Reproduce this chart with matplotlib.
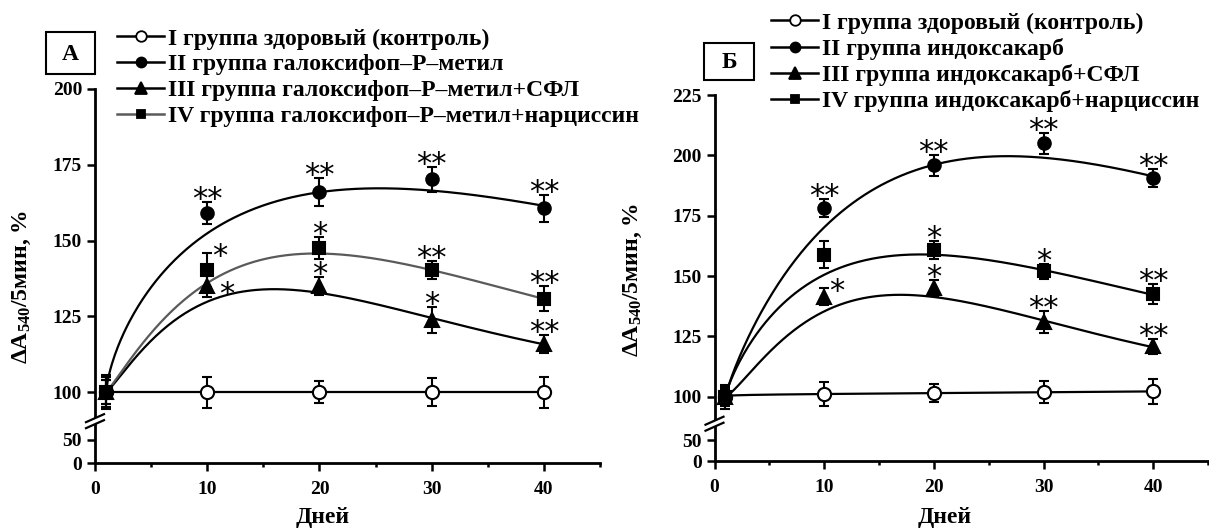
import numpy as np
import matplotlib.pyplot as plt
import matplotlib.transforms as mtransforms
from matplotlib.lines import Line2D
from matplotlib.patches import Rectangle

W, H = 1209, 530

plt.rcParams['font.family'] = ['Liberation Serif', 'DejaVu Sans']
plt.rcParams['font.weight'] = 'bold'
plt.rcParams['mathtext.fontset'] = 'custom'
plt.rcParams['mathtext.rm'] = 'Liberation Serif:bold'
plt.rcParams['mathtext.bf'] = 'Liberation Serif:bold'
plt.rcParams['mathtext.it'] = 'Liberation Serif:bold:italic'

days = [1, 10, 20, 30, 40]

# А: галоксифоп-Р-метил
a_labels = ['I группа здоровый (контроль)',
            'II группа галоксифоп–Р–метил',
            'III группа галоксифоп–Р–метил+СФЛ',
            'IV группа галоксифоп–Р–метил+нарциссин']
a_mean_1 = [100, 100, 100, 100, 100]
a_err_1 = [5.5, 5.1, 3.7, 4.6, 5.1]
a_mean_2 = [100, 159.1, 165.9, 170.2, 160.6]
a_err_2 = [4.0, 3.7, 4.6, 4.2, 4.4]
a_mean_3 = [100, 135.1, 135.0, 123.8, 115.8]
a_err_3 = [4.0, 3.6, 3.1, 4.3, 3.0]
a_mean_4 = [100, 140.3, 147.6, 140.3, 130.8]
a_err_4 = [5.0, 5.5, 3.6, 3.0, 4.2]
# values of the fitted trend curves at the same days
a_trend_2 = [100, 152.6, 164.7, 168.2, 160.8]
a_trend_3 = [100, 129.7, 133.3, 123.9, 115.9]
a_trend_4 = [100, 136.0, 145.6, 140.4, 130.7]
# (group, day, mark, placement)
a_stars = [(1, 10, '**', 'up'), (1, 20, '**', 'up'), (1, 30, '**', 'up'), (1, 40, '**', 'up'),
           (3, 10, '*', 'ur'), (3, 20, '*', 'up'), (3, 30, '**', 'up'), (3, 40, '**', 'up'),
           (2, 10, '*', 'r'), (2, 20, '*', 'up'), (2, 30, '*', 'up'), (2, 40, '**', 'up')]

# Б: индоксакарб
b_labels = ['I группа здоровый (контроль)',
            'II группа индоксакарб',
            'III группа индоксакарб+СФЛ',
            'IV группа индоксакарб+нарциссин']
b_mean_1 = [100, 101.1, 101.5, 101.8, 102.2]
b_err_1 = [4.0, 4.8, 3.8, 4.5, 5.2]
b_mean_2 = [100, 178.1, 195.8, 205.0, 190.6]
b_err_2 = [3.0, 3.7, 4.3, 4.3, 3.9]
b_mean_3 = [100, 141.5, 145.0, 130.9, 120.8]
b_err_3 = [3.0, 3.6, 3.4, 4.6, 3.0]
b_mean_4 = [100, 158.8, 160.9, 151.9, 142.5]
b_err_4 = [5.0, 5.5, 3.7, 3.0, 4.3]
b_trend_2 = [100, 170.4, 194.6, 201.1, 190.5]
b_trend_3 = [100, 135.2, 142.1, 130.8, 120.7]
b_trend_4 = [100, 150.4, 159.4, 151.8, 142.4]
b_stars = [(1, 10, '**', 'up'), (1, 20, '**', 'up'), (1, 30, '**', 'up'), (1, 40, '**', 'up'),
           (3, 20, '*', 'up'), (3, 30, '*', 'up'), (3, 40, '**', 'up'),
           (2, 10, '*', 'ur'), (2, 20, '*', 'up'), (2, 30, '**', 'up'), (2, 40, '**', 'up')]

markers = ['o', 'o', '^', 's']
face = ['white', 'black', 'black', 'black']
msize = [9.5, 9, 10, 8]
# offsets (px) of the asterisk centre: from cap top or from the mean
star_off = {'up': ('cap', 0, 11), 'ur': ('cap', 13, 5), 'r': ('mean', 20, 0)}
STAR_MID = 17  # px from baseline to middle of '*' glyph at 22 pt


def px(x, y):
    return x / W, 1 - y / H


def broken(k1, k2, b):
    def fwd(v):
        v = np.asarray(v, float)
        return np.where(v < b, k1 * v, k1 * b + k2 * (v - b))

    def inv(p):
        p = np.asarray(p, float)
        return np.where(p < k1 * b, p / k1, b + (p - k1 * b) / k2)
    return fwd, inv


def trend_curve(t, v):
    t = np.asarray(t, float)
    v = np.asarray(v, float)
    tt = np.linspace(t[0], t[-1], 300)
    dv = v[1:] - v[0]
    if np.any(dv <= 0):
        return tt, np.polyval(np.polyfit(t, v, 1), tt)
    # v = v0 + A * s**n * exp(-k*s), fitted in log form
    s = t[1:] - t[0]
    X = np.column_stack([np.ones_like(s), np.log(s), -s])
    c, *_ = np.linalg.lstsq(X, np.log(dv), rcond=None)
    ss = tt - t[0]
    return tt, v[0] + np.exp(c[0]) * ss ** c[1] * np.exp(-c[2] * ss)


def draw_panel(ax, means, errs, trends, stars, line_colors, yticks, ymax, scale):
    ax.set_yscale('function', functions=broken(*scale))
    ax.set_xlim(0, 45)
    ax.set_ylim(0, ymax)
    for i, (m, e) in enumerate(zip(means, errs)):
        tt, yy = trend_curve(days, trends[i] if trends[i] is not None else m)
        ax.plot(tt, yy, color=line_colors[i], lw=1.6, zorder=2)
        ax.errorbar(days, m, yerr=e, fmt='none', ecolor='black', elinewidth=1.5,
                    capsize=3.8, capthick=1.5, zorder=3)
        ax.plot(days, m, ls='none', marker=markers[i], ms=msize[i], mfc=face[i],
                mec='black', mew=1.5, zorder=4)
    for g, d, txt, where in stars:
        k = days.index(d)
        ref, dx, dy = star_off[where]
        yv = means[g][k] + (errs[g][k] if ref == 'cap' else 0)
        ax.annotate(txt, (d, yv), xytext=(dx, dy - STAR_MID), textcoords='offset pixels',
                    ha='center', va='baseline', fontsize=22, fontweight='normal',
                    family='DejaVu Sans', zorder=5, annotation_clip=False)

    for side in ('top', 'right'):
        ax.spines[side].set_visible(False)
    for side in ('left', 'bottom'):
        ax.spines[side].set_linewidth(2)
    ax.set_yticks(yticks)
    ax.set_yticklabels([str(v) for v in yticks])
    ax.set_xticks([0, 10, 20, 30, 40])
    ax.set_xticks([5, 15, 25, 35, 45], minor=True)
    ax.tick_params(which='major', direction='out', length=5.8, width=1.8, labelsize=14)
    ax.tick_params(axis='x', which='major', pad=7)
    ax.tick_params(which='minor', direction='out', length=3, width=1.8)
    ax.tick_params(axis='y', which='minor', left=False)

    # break marks on the y axis
    brk = scale[2]
    base = mtransforms.blended_transform_factory(ax.transAxes, ax.transData)
    tr = ax.figure.dpi_scale_trans + mtransforms.ScaledTranslation(0, brk, base)
    ax.plot([0, 0], [-0.03, 0.03], color='white', lw=4, transform=tr,
            clip_on=False, zorder=6, solid_capstyle='butt')
    for o in (-0.03, 0.03):
        ax.plot([-0.09, 0.09], [o - 0.04, o + 0.04], color='black', lw=1.6,
                transform=tr, clip_on=False, zorder=7)


fig = plt.figure(figsize=(W / 100, H / 100), dpi=100)

ax_a = fig.add_axes([95 / W, 66.7 / H, 505 / W, 374.3 / H])
draw_panel(ax_a, [a_mean_1, a_mean_2, a_mean_3, a_mean_4],
           [a_err_1, a_err_2, a_err_3, a_err_4],
           [None, a_trend_2, a_trend_3, a_trend_4], a_stars,
           ['black', 'black', 'black', '#5a5a5a'],
           [0, 50, 100, 125, 150, 175, 200], 200, (0.466, 3.03, 90.4))

ax_b = fig.add_axes([714.5 / W, 69 / H, 493.5 / W, 366 / H])
draw_panel(ax_b, [b_mean_1, b_mean_2, b_mean_3, b_mean_4],
           [b_err_1, b_err_2, b_err_3, b_err_4],
           [None, b_trend_2, b_trend_3, b_trend_4], b_stars,
           ['black'] * 4,
           [0, 50, 100, 125, 150, 175, 200, 225], 225, (0.42, 2.414, 88.8))

ylab = r'ΔA$_{\mathbf{540}}$/5мин, %'
fig.text(*px(22, 287), ylab, rotation=90, ha='center', va='center', fontsize=17)
fig.text(*px(633, 280), ylab, rotation=90, ha='center', va='center', fontsize=17)
fig.text(*px(323, 517), 'Дней', ha='center', va='center', fontsize=17)
fig.text(*px(945, 517), 'Дней', ha='center', va='center', fontsize=17)

# panel letters in boxes
for (x0, y0, x1, y1), letter in (((46, 32, 95, 74), 'А'), ((704, 43, 754, 80), 'Б')):
    fig.add_artist(Rectangle(px(x0, y1), (x1 - x0) / W, (y1 - y0) / H, fill=False,
                             lw=1.5, transform=fig.transFigure))
    fig.text(*px((x0 + x1) / 2, (y0 + y1) / 2 + 1), letter, ha='center', va='center',
             fontsize=17)


def legend_handles(colors):
    return [Line2D([0], [0], color=colors[i], lw=1.8, marker=markers[i], ms=msize[i] * 0.8,
                   mfc=face[i], mec='black', mew=1.3) for i in range(4)]


leg_kw = dict(loc='upper left', frameon=False, handlelength=2.0, handletextpad=0.17,
              labelspacing=0.18, borderpad=0, borderaxespad=0,
              prop=dict(family='Liberation Serif', weight='bold', size=17))
fig.legend(legend_handles(['black', 'black', 'black', '#5a5a5a']), a_labels,
           bbox_to_anchor=px(117, 28), **leg_kw)
fig.legend(legend_handles(['black'] * 4), b_labels,
           bbox_to_anchor=px(771, 12), **leg_kw)

fig.savefig('out.png', dpi=100)
